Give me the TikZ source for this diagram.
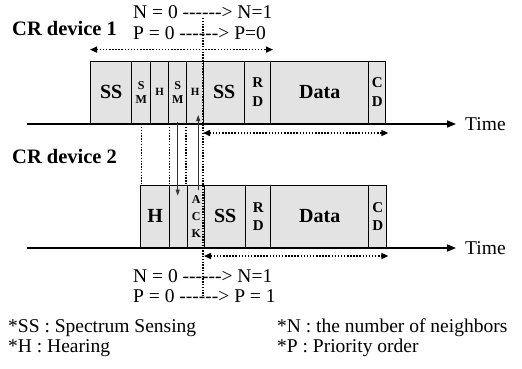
\documentclass[tikz,border=0pt]{standalone}
\usepackage{fontspec}
\setmainfont{Liberation Serif}
\usetikzlibrary{arrows.meta}

\tikzset{
  slot/.style={draw, line width=1.4pt, fill=gray!22, inner sep=0pt, anchor=south west, align=center},
  timeline/.style={line width=1.6pt, -{Triangle[length=9pt,width=7pt]}},
  span/.style={line width=1.5pt, dash pattern=on 1.5pt off 1.6pt,
    {Triangle[length=7pt,width=6pt]}-{Triangle[length=7pt,width=6pt]}},
  link/.style={line width=1.3pt, dash pattern=on 1.3pt off 1.5pt},
  msg/.style={line width=0.8pt, draw=gray!40!black, -{Triangle[length=6pt,width=4pt]}},
  txt/.style={anchor=west, inner sep=0pt, font=\fontsize{19.5}{21}\selectfont},
  dev/.style={anchor=west, inner sep=0pt, font=\fontsize{20.5}{22}\selectfont\bfseries},
}

\begin{document}
\begin{tikzpicture}[x=1pt,y=-1pt]
  \useasboundingbox (0,0) rectangle (522,368);
  % CR device 1: slots on the upper time line
  \foreach \nm/\a/\b/\s/\k/\lab in {ssa/90/131/20/22/SS, sma/131/150/12/14/S\\M,
      ha/150/168/11/12/H, smb/168/186/12/14/S\\M, hb/186/203/11/12/H,
      ssb/203/244/20/22/SS, rd/244/270/15/19/R\\D, data/270/368/20/22/Data,
      cd/368/385/15/19/C\\D}
    \node[slot, minimum width={(\b-\a)*1pt}, minimum height=62pt,
      font=\fontsize{\s}{\k}\selectfont\bfseries] (\nm) at (\a,124) {\lab};
  % CR device 2: slots on the lower time line
  \foreach \nm/\a/\b/\s/\k/\lab in {h2/140/169/20/22/H, idle/169/187/12/14/{},
      ack/187/204/12/17/A\\C\\K, ss2/204/245/20/22/SS, rd2/245/270/15/18/R\\D,
      data2/270/368/20/22/Data, cd2/368/386/15/18/C\\D}
    \node[slot, minimum width={(\b-\a)*1pt}, minimum height=62pt,
      font=\fontsize{\s}{\k}\selectfont\bfseries] (\nm) at (\a,248) {\lab};

  \node[dev] (dev1) at (12,28) {CR device 1};
  \node[dev] (dev2) at (12,156) {CR device 2};
  \node[txt] (n1) at (133,12) {N = 0 -{}-{}-{}-{}-{}-{}> N=1};
  \node[txt] (p1) at (133,33) {P = 0 -{}-{}-{}-{}-{}-{}> P=0};
  \node[txt] (n2) at (133,276) {N = 0 -{}-{}-{}-{}-{}-{}> N=1};
  \node[txt] (p2) at (133,296) {P = 0 -{}-{}-{}-{}-{}-{}> P = 1};
  \node[txt] (t1) at (465,124) {Time};
  \node[txt] (t2) at (465,248) {Time};

  % time lines
  \coordinate (a1) at (27,124);
  \coordinate (a2) at (27,248);
  \draw[timeline] (a1) -- ([xshift=-9pt]t1.west);
  \draw[timeline] (a2) -- ([xshift=-9pt]t2.west);

  % durations
  \draw[span] ([yshift=11pt]ssa.north west) -- ([yshift=11pt,xshift=3pt]data.north west);
  \draw[span] ([yshift=-9pt]ssb.south west) -- ([yshift=-9pt,xshift=2pt]cd.south east);
  \draw[span] ([yshift=-8pt]ss2.south west) -- ([yshift=-8pt,xshift=1pt]cd2.south east);

  % alignment between the devices
  \coordinate (vtop) at (203,18);
  \coordinate (vbot) at (203,296);
  \draw[link] (vtop) -- (vbot);
  \draw[link] ([yshift=-3pt]sma.south) -- (sma.south |- h2.north);
  \draw[link] ([yshift=-3pt]ha.south east) -- (ha.south east |- idle.north);
  \draw[link] ([yshift=-3pt]hb.south west) -- (hb.south west |- ack.north);

  % messages
  \draw[msg] ([yshift=2pt]smb.south) -- ([yshift=-11pt]smb.south |- idle.north);
  \draw[msg] ([xshift=2pt,yshift=-5pt]ack.north) -- ([xshift=2pt,yshift=9pt]ack.north |- hb.south);

  % legend
  \node[txt] (lss) at (8,328) {*SS : Spectrum Sensing};
  \node[txt] (lh) at (8,348) {*H : Hearing};
  \node[txt] (ln) at (277,328) {*N : the number of neighbors};
  \node[txt] (lp) at (277,348) {*P : Priority order};
\end{tikzpicture}
\end{document}
